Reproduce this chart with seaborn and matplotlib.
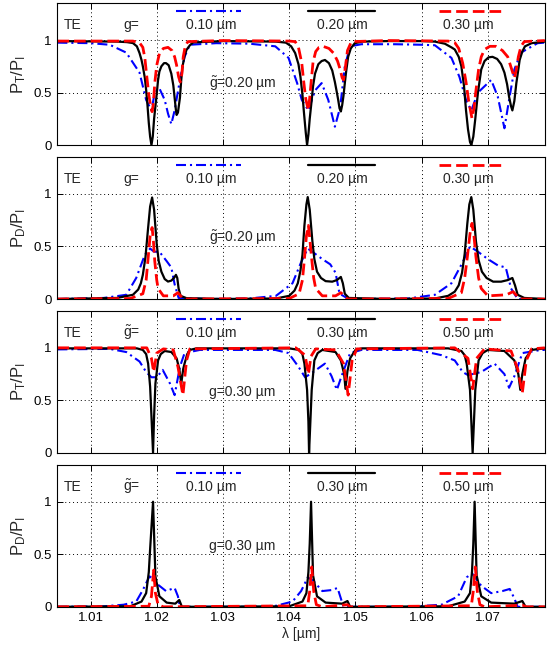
import matplotlib
matplotlib.use('Agg')
import matplotlib.pyplot as plt
import seaborn as sns

# values: (wavelength [um], normalised power)
# panel 1: P_T/P_I, g = 0.10 / 0.20 / 0.30 um, g~ = 0.20 um
p1_blue = [(1.0050, 0.975), (1.0100, 0.97), (1.0129, 0.955), (1.0154, 0.88), (1.0174, 0.69), (1.0184, 0.43),
           (1.0192, 0.33), (1.0197, 0.50), (1.0204, 0.54), (1.0212, 0.43), (1.0217, 0.30), (1.0222, 0.20),
           (1.0227, 0.33), (1.0235, 0.62), (1.0242, 0.84), (1.0250, 0.955), (1.0290, 0.97), (1.0340, 0.965),
           (1.0379, 0.94), (1.0399, 0.83), (1.0412, 0.59), (1.0419, 0.43), (1.0429, 0.33), (1.0439, 0.52),
           (1.0449, 0.59), (1.0459, 0.43), (1.0469, 0.175), (1.0477, 0.36), (1.0484, 0.75), (1.0492, 0.94),
           (1.0509, 0.96), (1.0560, 0.96), (1.0600, 0.955), (1.0620, 0.95), (1.0645, 0.83), (1.0657, 0.65),
           (1.0667, 0.43), (1.0675, 0.33), (1.0685, 0.50), (1.0705, 0.62), (1.0715, 0.46), (1.0725, 0.16),
           (1.0732, 0.43), (1.0740, 0.72), (1.0750, 0.88), (1.0775, 0.97), (1.0786, 0.975)]
p1_black = [(1.0050, 0.99), (1.0140, 0.985), (1.0155, 0.98), (1.0164, 0.971), (1.0170, 0.94), (1.0174, 0.876),
            (1.0177, 0.81), (1.0179, 0.75), (1.0182, 0.64), (1.0184, 0.525), (1.0186, 0.38), (1.0188, 0.21),
            (1.0190, 0.08), (1.0192, 0.0), (1.0194, 0.08), (1.0196, 0.25), (1.0200, 0.49), (1.0202, 0.62),
            (1.0204, 0.70), (1.0207, 0.75), (1.0211, 0.78), (1.0214, 0.78), (1.0218, 0.76), (1.0222, 0.68),
            (1.0225, 0.57), (1.0227, 0.45), (1.0229, 0.33), (1.0230, 0.287), (1.0232, 0.31), (1.0235, 0.45),
            (1.0237, 0.62), (1.0239, 0.75), (1.0242, 0.85), (1.0245, 0.907), (1.0250, 0.95), (1.0255, 0.977),
            (1.0300, 0.99), (1.0380, 0.985), (1.0395, 0.975), (1.0403, 0.94), (1.0409, 0.876), (1.0414, 0.77),
            (1.0417, 0.65), (1.0420, 0.48), (1.0422, 0.33), (1.0425, 0.12), (1.0427, 0.0), (1.0429, 0.1),
            (1.0431, 0.25), (1.0434, 0.43), (1.0436, 0.56), (1.0439, 0.68), (1.0444, 0.77), (1.0449, 0.80),
            (1.0454, 0.81), (1.0460, 0.78), (1.0465, 0.71), (1.0469, 0.6), (1.0472, 0.5), (1.0474, 0.43),
            (1.0476, 0.35), (1.0478, 0.32), (1.0480, 0.38), (1.0482, 0.47), (1.0484, 0.59), (1.0486, 0.7),
            (1.0489, 0.84), (1.0493, 0.92), (1.0499, 0.97), (1.0510, 0.985), (1.0550, 0.99), (1.0600, 0.99),
            (1.0620, 0.985), (1.0635, 0.965), (1.0645, 0.93), (1.0650, 0.91), (1.0656, 0.84), (1.0660, 0.75),
            (1.0664, 0.56), (1.0667, 0.33), (1.0670, 0.15), (1.0673, 0.03), (1.0675, 0.0), (1.0678, 0.08),
            (1.0681, 0.25), (1.0685, 0.5), (1.0690, 0.72), (1.0695, 0.80), (1.0701, 0.835), (1.0707, 0.84),
            (1.0714, 0.82), (1.0720, 0.77), (1.0725, 0.69), (1.0729, 0.58), (1.0732, 0.46), (1.0735, 0.37),
            (1.0737, 0.33), (1.0740, 0.42), (1.0743, 0.59), (1.0746, 0.72), (1.0748, 0.81), (1.0752, 0.89),
            (1.0756, 0.94), (1.0766, 0.97), (1.0786, 0.985)]
p1_red = [(1.0050, 0.99), (1.0164, 0.99), (1.0174, 0.975), (1.0179, 0.93), (1.0182, 0.83), (1.0185, 0.65),
          (1.0188, 0.48), (1.0191, 0.36), (1.0193, 0.318), (1.0195, 0.4), (1.0197, 0.59), (1.0200, 0.76),
          (1.0204, 0.87), (1.0210, 0.92), (1.0217, 0.93), (1.0223, 0.9), (1.0227, 0.84), (1.0230, 0.76),
          (1.0233, 0.65), (1.02355, 0.60), (1.0238, 0.68), (1.0240, 0.84), (1.0243, 0.94), (1.0247, 0.985),
          (1.0300, 0.995), (1.0400, 0.99), (1.0409, 0.985), (1.0414, 0.93), (1.0419, 0.78), (1.0422, 0.6),
          (1.0425, 0.44), (1.0429, 0.33), (1.0431, 0.45), (1.0433, 0.59), (1.0436, 0.79), (1.0440, 0.89),
          (1.0445, 0.93), (1.0451, 0.94), (1.0460, 0.92), (1.0467, 0.875), (1.0473, 0.8), (1.0477, 0.72),
          (1.0480, 0.64), (1.0482, 0.62), (1.0485, 0.75), (1.0488, 0.9), (1.0494, 0.985), (1.0550, 0.995),
          (1.0640, 0.99), (1.0650, 0.975), (1.0656, 0.92), (1.0662, 0.78), (1.0667, 0.6), (1.0671, 0.42),
          (1.0676, 0.255), (1.0679, 0.35), (1.0682, 0.52), (1.0686, 0.72), (1.0690, 0.84), (1.0695, 0.91),
          (1.0703, 0.94), (1.0712, 0.94), (1.0722, 0.9), (1.0730, 0.84), (1.0736, 0.72), (1.0740, 0.64),
          (1.0743, 0.72), (1.0746, 0.84), (1.0750, 0.94), (1.0755, 0.985), (1.0786, 0.995)]

# panel 2: P_D/P_I, same cases as panel 1
p2_blue = [(1.0050, 0.0), (1.0120, 0.01), (1.0154, 0.04), (1.0169, 0.2), (1.0182, 0.42), (1.0190, 0.48),
           (1.0196, 0.45), (1.0204, 0.45), (1.0215, 0.36), (1.0222, 0.3), (1.0227, 0.14), (1.0233, 0.01),
           (1.0280, 0.0), (1.0340, 0.005), (1.0380, 0.03), (1.0405, 0.15), (1.0418, 0.35), (1.0428, 0.48),
           (1.0437, 0.44), (1.0450, 0.38), (1.0462, 0.33), (1.0470, 0.25), (1.0476, 0.05), (1.0490, 0.0),
           (1.0580, 0.005), (1.0620, 0.04), (1.0645, 0.15), (1.0662, 0.35), (1.0673, 0.5), (1.0685, 0.45),
           (1.0700, 0.38), (1.0715, 0.32), (1.0727, 0.3), (1.0735, 0.1), (1.0745, 0.0), (1.0786, 0.0)]
p2_black = [(1.0050, 0.0), (1.0140, 0.01), (1.0164, 0.04), (1.0172, 0.09), (1.0176, 0.15), (1.0179, 0.23),
            (1.0183, 0.4), (1.0187, 0.68), (1.0190, 0.88), (1.0193, 0.966), (1.0196, 0.85), (1.0200, 0.52),
            (1.0203, 0.36), (1.0207, 0.26), (1.0212, 0.19), (1.0217, 0.166), (1.0222, 0.175), (1.0226, 0.2),
            (1.0229, 0.23), (1.0231, 0.2), (1.0233, 0.1), (1.0236, 0.03), (1.0245, 0.008), (1.0300, 0.0),
            (1.0380, 0.005), (1.0400, 0.03), (1.0408, 0.08), (1.0413, 0.15), (1.0417, 0.27), (1.0420, 0.42),
            (1.0423, 0.7), (1.0426, 0.9), (1.0428, 0.97), (1.0431, 0.85), (1.0435, 0.55), (1.0438, 0.38),
            (1.0442, 0.26), (1.0448, 0.2), (1.0455, 0.17), (1.0465, 0.165), (1.0472, 0.18), (1.0478, 0.21),
            (1.0481, 0.15), (1.0484, 0.05), (1.0490, 0.01), (1.0550, 0.0), (1.0620, 0.005), (1.0640, 0.03),
            (1.0650, 0.07), (1.0656, 0.13), (1.0661, 0.25), (1.0665, 0.43), (1.0669, 0.72), (1.0672, 0.9),
            (1.0675, 0.97), (1.0678, 0.85), (1.0682, 0.55), (1.0686, 0.37), (1.0691, 0.26), (1.0698, 0.2),
            (1.0708, 0.165), (1.0720, 0.165), (1.0730, 0.18), (1.0737, 0.2), (1.0741, 0.13), (1.0745, 0.04),
            (1.0755, 0.01), (1.0786, 0.0)]
p2_red = [(1.0050, 0.0), (1.0160, 0.005), (1.0179, 0.05), (1.0184, 0.18), (1.0187, 0.39), (1.0190, 0.6),
          (1.0193, 0.68), (1.0195, 0.55), (1.0197, 0.36), (1.0200, 0.18), (1.0202, 0.1), (1.0210, 0.03),
          (1.0225, 0.03), (1.0232, 0.06), (1.0240, 0.0), (1.0400, 0.005), (1.0415, 0.05), (1.0420, 0.18),
          (1.0423, 0.38), (1.0426, 0.6), (1.0429, 0.70), (1.0431, 0.58), (1.0434, 0.38), (1.0437, 0.2),
          (1.0440, 0.1), (1.0450, 0.03), (1.0470, 0.03), (1.0478, 0.06), (1.0488, 0.0), (1.0640, 0.005),
          (1.0660, 0.06), (1.0665, 0.2), (1.0669, 0.4), (1.0673, 0.62), (1.0676, 0.72), (1.0679, 0.6),
          (1.0682, 0.4), (1.0686, 0.2), (1.0690, 0.1), (1.0700, 0.03), (1.0728, 0.04), (1.0738, 0.07),
          (1.0748, 0.0), (1.0786, 0.0)]

# panel 3: P_T/P_I, g~ = 0.10 / 0.30 / 0.50 um, g = 0.30 um
p3_blue = [(1.0050, 0.985), (1.0129, 0.99), (1.0154, 0.96), (1.0174, 0.87), (1.0184, 0.77), (1.0192, 0.72),
           (1.0200, 0.72), (1.0209, 0.79), (1.0220, 0.66), (1.0227, 0.55), (1.0235, 0.82), (1.0242, 0.95),
           (1.0265, 0.98), (1.0379, 0.98), (1.0399, 0.95), (1.0414, 0.82), (1.0424, 0.72), (1.0434, 0.76),
           (1.0454, 0.85), (1.0464, 0.73), (1.0472, 0.6), (1.0479, 0.73), (1.0492, 0.95), (1.0509, 0.98),
           (1.0594, 0.98), (1.0630, 0.93), (1.0650, 0.88), (1.0662, 0.77), (1.0670, 0.74), (1.0690, 0.77),
           (1.0710, 0.85), (1.0725, 0.75), (1.0732, 0.62), (1.0740, 0.73), (1.0752, 0.95), (1.0780, 0.98),
           (1.0786, 0.98)]
p3_black = [(1.0050, 0.995), (1.0170, 0.995), (1.0179, 0.98), (1.0184, 0.94), (1.0187, 0.85), (1.0190, 0.63),
            (1.0192, 0.35), (1.01944, 0.0), (1.0196, 0.35), (1.0198, 0.66), (1.0202, 0.88), (1.0206, 0.94),
            (1.0212, 0.97), (1.0222, 0.96), (1.0230, 0.9), (1.0234, 0.8), (1.0237, 0.66), (1.0240, 0.8),
            (1.0242, 0.85), (1.0246, 0.94), (1.0250, 0.98), (1.0260, 0.995), (1.0400, 0.995), (1.0415, 0.98),
            (1.0420, 0.94), (1.0423, 0.85), (1.0427, 0.6), (1.0429, 0.3), (1.0430, 0.0), (1.0432, 0.3),
            (1.0434, 0.6), (1.0438, 0.88), (1.0443, 0.95), (1.0450, 0.98), (1.0470, 0.96), (1.0478, 0.88),
            (1.0483, 0.75), (1.0485, 0.61), (1.0488, 0.78), (1.0492, 0.9), (1.0500, 0.98), (1.0510, 0.995),
            (1.0640, 0.995), (1.0660, 0.97), (1.0665, 0.93), (1.0668, 0.85), (1.0673, 0.6), (1.0675, 0.3),
            (1.0677, 0.0), (1.0679, 0.3), (1.0681, 0.6), (1.0686, 0.88), (1.0692, 0.95), (1.0700, 0.98),
            (1.0725, 0.97), (1.0740, 0.88), (1.0746, 0.75), (1.0749, 0.6), (1.0752, 0.75), (1.0757, 0.9),
            (1.0766, 0.98), (1.0786, 0.995)]
p3_red = [(1.0050, 1.0), (1.0185, 1.0), (1.0192, 0.9), (1.01954, 0.77), (1.0200, 0.95), (1.0210, 0.99),
          (1.0225, 0.98), (1.0232, 0.82), (1.02395, 0.55), (1.0245, 0.88), (1.0250, 0.99), (1.0410, 1.0),
          (1.0424, 0.93), (1.0429, 0.75), (1.0433, 0.92), (1.0440, 0.99), (1.0470, 0.98), (1.0482, 0.85),
          (1.0489, 0.55), (1.0495, 0.88), (1.0502, 0.99), (1.0650, 1.0), (1.0670, 0.9), (1.0677, 0.61),
          (1.0683, 0.9), (1.0695, 0.99), (1.0735, 0.97), (1.0745, 0.8), (1.0752, 0.57), (1.0758, 0.88),
          (1.0766, 0.99), (1.0786, 1.0)]

# panel 4: P_D/P_I, same cases as panel 3
p4_blue = [(1.0050, 0.0), (1.0120, 0.005), (1.0150, 0.02), (1.0169, 0.05), (1.0179, 0.16), (1.0189, 0.29),
           (1.0194, 0.27), (1.0202, 0.21), (1.0214, 0.15), (1.0227, 0.18), (1.0232, 0.1), (1.0235, 0.0),
           (1.0340, 0.0), (1.0380, 0.01), (1.0405, 0.05), (1.0418, 0.15), (1.0428, 0.28), (1.0436, 0.25),
           (1.0450, 0.15), (1.0465, 0.16), (1.0473, 0.18), (1.0478, 0.08), (1.0482, 0.0), (1.0580, 0.0),
           (1.0630, 0.02), (1.0655, 0.1), (1.0668, 0.28), (1.0676, 0.32), (1.0690, 0.2), (1.0705, 0.13),
           (1.0722, 0.15), (1.0733, 0.17), (1.0740, 0.08), (1.0745, 0.0), (1.0786, 0.0)]
p4_black = [(1.0050, 0.0), (1.0160, 0.005), (1.0177, 0.05), (1.0184, 0.13), (1.0188, 0.33), (1.0190, 0.55),
            (1.01944, 1.0), (1.0198, 0.29), (1.0204, 0.1), (1.0215, 0.04), (1.0228, 0.03), (1.0234, 0.065),
            (1.0238, 0.0), (1.0400, 0.005), (1.0420, 0.05), (1.0426, 0.13), (1.0429, 0.33), (1.0431, 0.6),
            (1.0433, 1.0), (1.0436, 0.3), (1.0442, 0.1), (1.0455, 0.04), (1.0480, 0.03), (1.0488, 0.055),
            (1.0492, 0.0), (1.0640, 0.005), (1.0665, 0.05), (1.0673, 0.13), (1.0676, 0.33), (1.0678, 0.6),
            (1.0680, 1.0), (1.0683, 0.3), (1.0690, 0.1), (1.0705, 0.04), (1.0740, 0.03), (1.0752, 0.055),
            (1.0757, 0.0), (1.0786, 0.0)]
p4_red = [(1.0050, 0.0), (1.0188, 0.005), (1.0192, 0.1), (1.01954, 0.35), (1.0198, 0.13), (1.0202, 0.02),
          (1.0210, 0.0), (1.0428, 0.01), (1.0431, 0.15), (1.0434, 0.38), (1.0437, 0.15), (1.0441, 0.02),
          (1.0450, 0.0), (1.0488, 0.02), (1.0492, 0.0), (1.0675, 0.01), (1.0678, 0.15), (1.0681, 0.38),
          (1.0684, 0.15), (1.0688, 0.02), (1.0695, 0.0), (1.0752, 0.015), (1.0758, 0.0), (1.0786, 0.0)]

ylabels = [r'P$_\mathregular{T}$/P$_\mathregular{I}$', r'P$_\mathregular{D}$/P$_\mathregular{I}$'] * 2
gap_vals_top = ['0.10', '0.20', '0.30']
gap_vals_bottom = ['0.10', '0.30', '0.50']
G_TILDE = r'$\tilde{\mathregular{g}}$'
head_syms = ['g=', 'g=', G_TILDE + '=', G_TILDE + '=']
notes = [G_TILDE + '=0.20 µm', G_TILDE + '=0.20 µm', 'g=0.30 µm', 'g=0.30 µm']
xticks = [1.01, 1.02, 1.03, 1.04, 1.05, 1.06, 1.07]

sns.set_style('ticks')
plt.rcParams['font.family'] = ['Liberation Sans', 'DejaVu Sans']
plt.rcParams['mathtext.fontset'] = 'custom'
plt.rcParams['mathtext.rm'] = 'Liberation Sans'
plt.rcParams['mathtext.it'] = 'Liberation Sans:italic'

styles = [dict(color='#0000ff', linewidth=1.5, dashes=(4.8, 1.9, 1, 1.9)),
          dict(color='black', linewidth=1.6),
          dict(color='#ff0000', linewidth=2.0, dashes=(4.2, 1.8))]

curves = [(p1_blue, p1_black, p1_red), (p2_blue, p2_black, p2_red),
          (p3_blue, p3_black, p3_red), (p4_blue, p4_black, p4_red)]

fig, axes = plt.subplots(4, 1, figsize=(5.52, 6.49), dpi=100, sharex=True)
fig.subplots_adjust(left=0.104, right=0.987, top=0.995, bottom=0.065, hspace=0.085)

leg_pos = [(0.243, 0.377, 0.315), (0.514, 0.651, 0.585), (0.783, 0.910, 0.844)]

for i, ax in enumerate(axes):
    for data, st in zip(curves[i], styles):
        xs, ys = zip(*data)
        sns.lineplot(x=list(xs), y=list(ys), ax=ax, sort=False, estimator=None, **st)

    ax.set_xlim(1.005, 1.0786)
    ax.set_ylim(0, 1.35)
    ax.set_xticks(xticks)
    ax.set_yticks([0, 0.5, 1])
    ax.set_yticklabels(['0', '0.5', '1'])
    ax.tick_params(direction='in', top=True, right=True, length=4, width=0.7,
                   labelsize=9.5, colors='black', pad=4)
    ax.grid(True, color='black', linestyle=(0, (1, 3)), linewidth=0.7)
    for sp in ax.spines.values():
        sp.set_visible(True)
        sp.set_linewidth(0.8)
        sp.set_color('black')
    ax.set_ylabel(ylabels[i], fontsize=12, labelpad=4)

    # in-axes key, MATLAB style: sample line above its label
    vals = gap_vals_top if i < 2 else gap_vals_bottom
    ax.text(0.012, 0.847, 'TE', transform=ax.transAxes, ha='left', va='center', fontsize=10)
    ax.text(0.135, 0.847, head_syms[i], transform=ax.transAxes, ha='left', va='center', fontsize=10)
    for (x0, x1, xt), v, st in zip(leg_pos, vals, styles):
        ax.plot([x0, x1], [0.943, 0.943], transform=ax.transAxes, clip_on=False, **st)
        ax.text(xt, 0.847, v + ' µm', transform=ax.transAxes, ha='center', va='center', fontsize=10)
    ax.text(0.311, 0.43, notes[i], transform=ax.transAxes, ha='left', va='center', fontsize=10)

axes[-1].set_xticklabels([f'{t:.2f}' for t in xticks])
axes[-1].set_xlabel('λ [µm]', fontsize=10, labelpad=2)

fig.savefig('out.png', dpi=100)
